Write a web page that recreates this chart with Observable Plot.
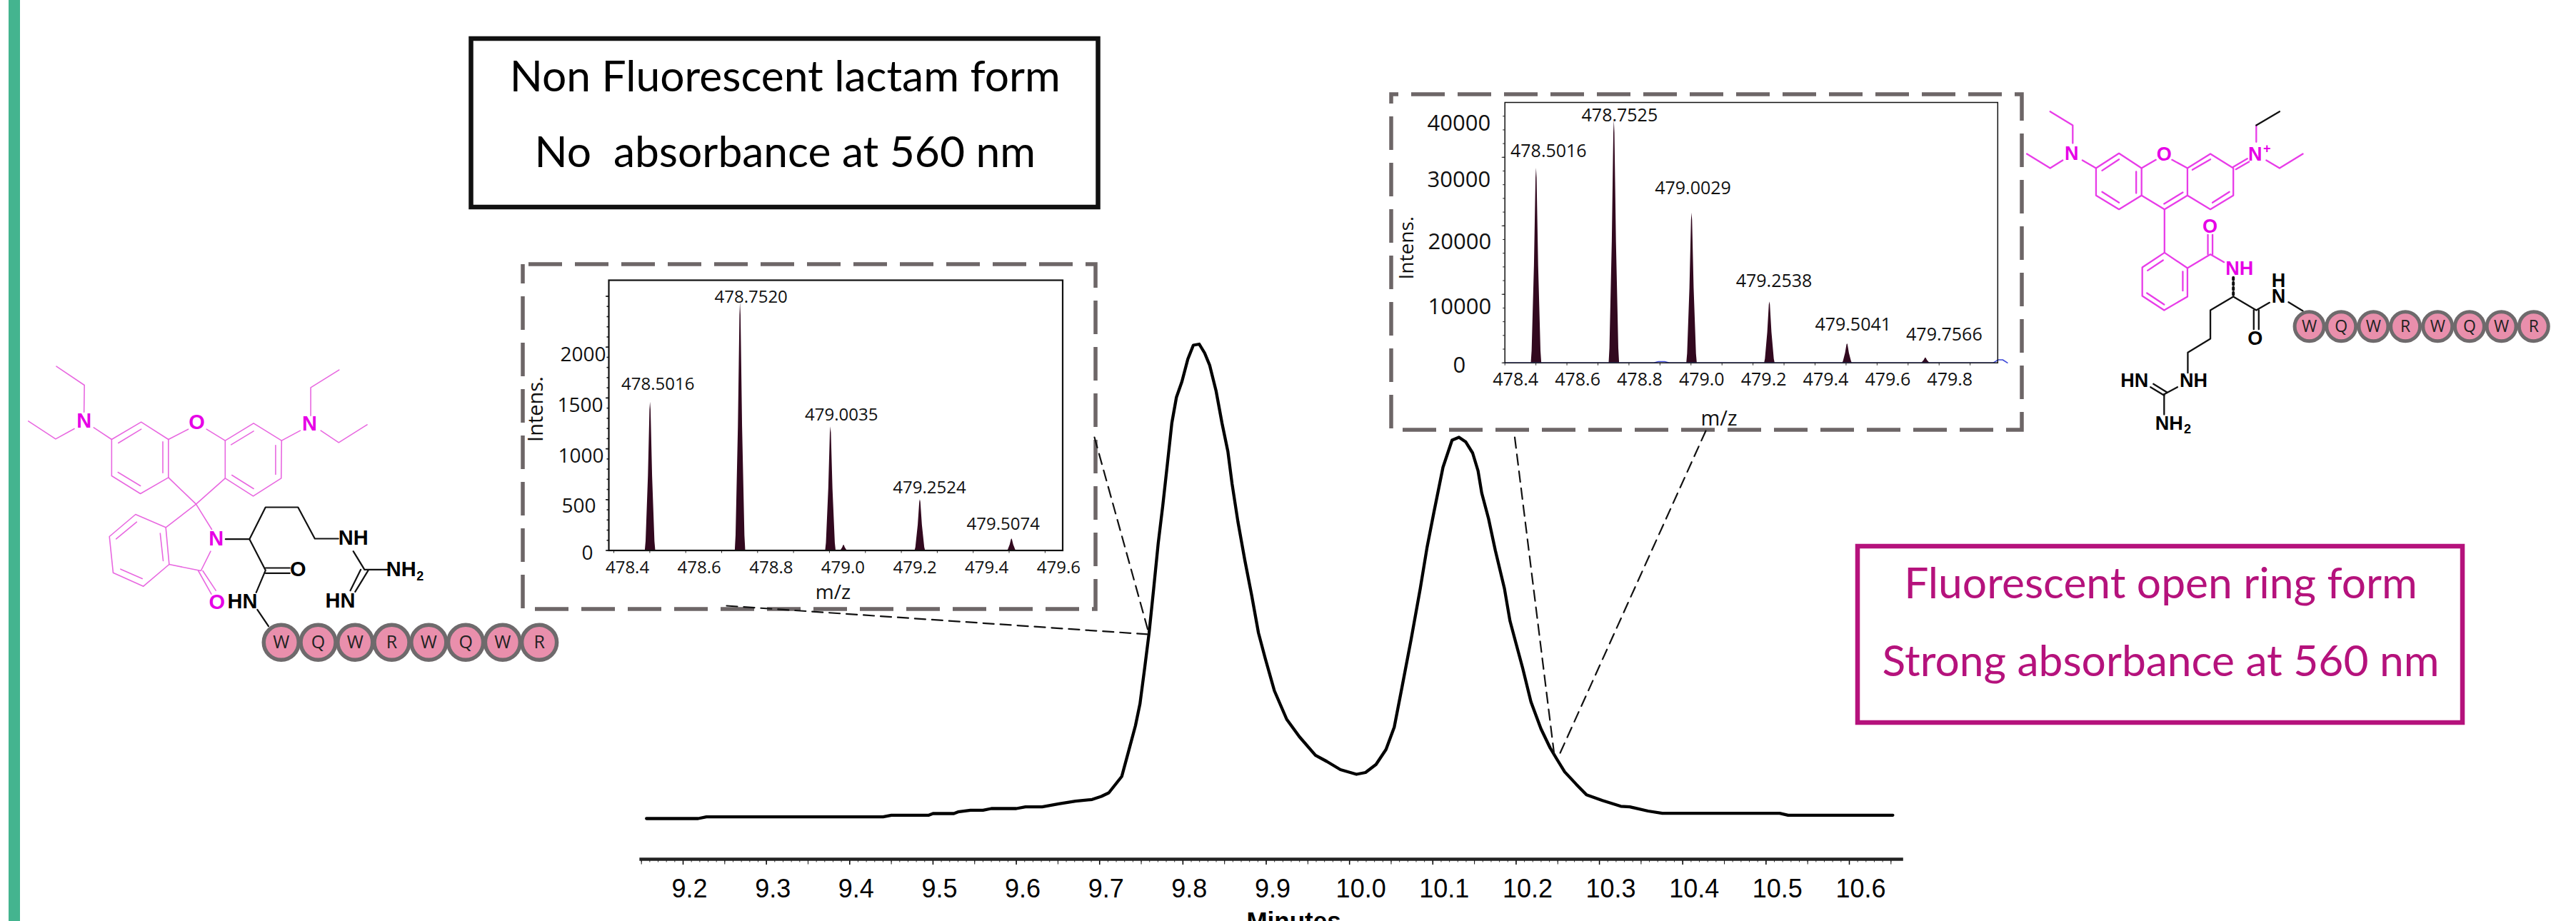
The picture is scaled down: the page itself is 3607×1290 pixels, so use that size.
<!DOCTYPE html>
<html><head><meta charset="utf-8">
<script src="https://cdn.jsdelivr.net/npm/d3@7"></script>
<script src="https://cdn.jsdelivr.net/npm/@observablehq/plot@0.6"></script>
<style>html,body{margin:0;padding:0;background:#fff;overflow:hidden}#stage{position:relative;width:3607px;height:1290px;overflow:hidden}#stage svg{position:absolute;left:0;top:0}</style>
</head><body><div id="stage"></div>
<script>
// ---- Chromatogram (minutes vs. absorbance, arbitrary units)
const minutes = [9.156,9.218,9.228,9.44,9.45,9.495,9.5,9.525,9.53,9.545,9.56,9.57,9.6,9.611,9.631,9.651,9.671,9.691,9.702,9.711,9.7266,9.7348,9.743,9.7485,9.754,9.7594,9.7649,9.7703,9.7758,9.7813,9.7867,9.7922,9.7988,9.8059,9.8125,9.8196,9.8261,9.8321,9.8398,9.8469,9.854,9.859,9.866,9.8743,9.8825,9.8907,9.8989,9.9098,9.9246,9.9399,9.9591,9.9727,9.9891,10.0083,10.0192,10.0318,10.0438,10.0537,10.063,10.0739,10.0849,10.0931,10.1013,10.1122,10.1231,10.1314,10.1396,10.1478,10.1543,10.1587,10.1669,10.175,10.186,10.1926,10.1997,10.2079,10.2178,10.2298,10.2408,10.249,10.2583,10.2725,10.2845,10.3037,10.3256,10.3365,10.3584,10.3755,10.5164,10.5265,10.6522];
const absorbance = [0,0,2.3,2.3,4.7,4.7,7,7,9.3,11.7,11.7,14,14,16.3,16.3,20.7,24.3,26.7,31,36,59,94.4,130,161,210,260,322,385,438,496,554,590,612,643.5,663,664.5,652,635,599,554,514,469,416,362,313,260,224,179,139,114.5,88.6,80,68.5,62,64.5,75.7,96.7,128,184,250.7,322,380,429,492,530,534,527.4,512,487,456,420,375.7,322,277,246,210.5,163.6,125.7,99,83,65.4,47.6,33.3,25.2,17.2,16.3,10.5,7.3,7.3,4.7,4.7];
const minuteTicks = [9.2,9.3,9.4,9.5,9.6,9.7,9.8,9.9,10.0,10.1,10.2,10.3,10.4,10.5,10.6];
const minuteMidTicks = [9.15,9.25,9.35,9.45,9.55,9.65,9.75,9.85,9.95,10.05,10.15,10.25,10.35,10.45,10.55,10.65];

// ---- Mass spectrum of the lactam form
const lactamMz = [478.5016,478.7520,479.0035,479.2524,479.5074,479.04];
const lactamIntensity = [1459,2438,1216,500,114,53];
const lactamHalfBase = [0.0145,0.0145,0.0145,0.0145,0.012,0.0095];
const lactamLabels = ["478.5016","478.7520","479.0035","479.2524","479.5074",""];
const lactamXTicks = [478.4,478.6,478.8,479.0,479.2,479.4,479.6];
const lactamYLabels = [2000,1500,1000,500,0];

// ---- Mass spectrum of the open ring form
const openMz = [478.5016,478.7525,479.0029,479.2538,479.5041,479.7566];
const openIntensity = [32590,40560,25100,10210,3190,840];
const openHalfBase = [0.0168,0.0168,0.0168,0.0168,0.0155,0.0135];
const openLabels = ["478.5016","478.7525","479.0029","479.2538","479.5041","479.7566"];
const openXTicks = [478.4,478.6,478.8,479.0,479.2,479.4,479.6,479.8];
const openYLabels = [40000,30000,20000,10000,0];
const openBaseMz = [478.4,478.88,478.895,478.915,478.93,479.975,479.99,480.005,480.02];
const openBaseInt = [0,0,200,200,0,0,500,500,0];

// ---- Peak outline (share of half base, share of height)
const profileWidth = [-1,-0.85,-0.4,-0.1,0,0.1,0.4,0.85,1];
const profileHeight = [0,0.06,0.5,0.95,1,0.95,0.5,0.06,0];

// ---- Peptide
const peptide = ["W","Q","W","R","W","Q","W","R"];

// ---- Lactam structure, in the drawing's own units
const lactamMagenta = [
 [[298,465],[377,392],[450,465],[450,625],[375,693],[298,618],[298,465]],
 [[316,480],[377,422]],[[435,475],[435,605]],[[315,603],[375,660]],
 [[602,470],[678,397],[753,470],[752,628],[677,703],[602,628],[602,470]],
 [[618,487],[678,430]],[[737,490],[737,612]],[[620,615],[678,672]],
 [[450,465],[503,422]],[[552,422],[602,470]],[[450,625],[524,737],[602,628]],
 [[298,465],[250,415]],[[224,350],[225,237],[150,158]],[[198,420],[148,463],[75,388]],
 [[753,470],[803,428]],[[831,365],[831,247],[907,173]],[[858,428],[906,478],[982,403]],
 [[443,835],[524,737],[566,843]],
 [[443,835],[362,780],[292,873],[302,1025],[383,1082],[452,990],[443,835]],
 [[365,812],[310,883]],[[428,860],[436,975]],[[322,1010],[380,1050]],
 [[452,990],[537,1017],[563,935]],[[530,1017],[565,1115]],[[542,1017],[577,1100]]
];
const lactamBlack = [
 [[603,884],[667,884],[710,750],[797,750],[842,882],[905,882]],
 [[667,884],[710,1015],[685,1108]],[[710,1005],[775,1005]],[[710,1027],[775,1027]],
 [[688,1180],[718,1250]],[[945,935],[975,1012],[1040,1012]],[[965,1012],[937,1100]],[[985,1015],[950,1105]]
];
const lactamAtoms = [
 ["N",224,388,"#e600e6"],["O",526,395,"#e600e6"],["N",828,400,"#e600e6"],["N",578,884,"#e600e6"],["O",580,1150,"#e600e6"],
 ["NH",945,880,"#000"],["O",797,1012,"#000"],["NH",1073,1012,"#000"],["HN",648,1148,"#000"],["HN",910,1145,"#000"]
];
const lactamSub = [["2",1124,1040,"#000"]];
const lactamBeadX = [752,851,950,1048,1147,1246,1345,1443];

// ---- Open ring structure, in the drawing's own units
const openMagenta = [
 [[228,345],[292,283],[355,345],[355,460],[292,518],[228,460],[228,345]],
 [[245,355],[292,308]],[[340,360],[340,450]],[[245,445],[292,490]],
 [[483,345],[547,285],[611,345],[611,460],[547,518],[483,460],[483,345]],
 [[497,352],[547,308]],[[553,490],[600,445]],
 [[355,460],[419,518],[483,460]],[[418,495],[470,447]],
 [[355,345],[395,310]],[[440,310],[483,345]],
 [[228,345],[190,312]],[[163,240],[163,165],[100,107]],[[135,312],[100,345],[35,285]],
 [[611,340],[650,305]],[[618,350],[655,318]],[[675,235],[675,165]],[[703,312],[740,345],[805,285]],
 [[419,518],[419,700]],
 [[419,700],[357,762],[357,882],[418,942],[483,885],[483,765],[419,700]],
 [[372,775],[415,732]],[[470,860],[470,780]],[[370,870],[418,918]],
 [[483,765],[547,707],[585,740]],[[540,707],[540,625]],[[553,707],[553,625]]
];
const openBlack = [
 [[675,165],[740,107]],
 [[611,885],[547,942],[547,1062],[484,1120],[484,1205]],[[611,885],[675,942],[712,910]],
 [[668,942],[668,1022]],[[682,942],[682,1022]],[[765,908],[805,945]],
 [[418,1295],[455,1265]],[[380,1265],[418,1300]],[[388,1252],[426,1287]],[[418,1295],[418,1380]]
];
const openDashed = [[[611,805],[611,880]]];
const openAtoms = [
 ["N",160,285,"#e600e6"],["O",418,288,"#e600e6"],["N",672,288,"#e600e6"],["O",546,590,"#e600e6"],["NH",628,768,"#e600e6"],
 ["H",737,820,"#000"],["N",737,885,"#000"],["O",672,1062,"#000"],["NH",500,1240,"#000"],["HN",335,1240,"#000"],["NH",432,1418,"#000"]
];
const openSub = [["+",705,262,"#e600e6"],["2",483,1442,"#000"]];
const openBeadX = [823,912,1002,1091,1181,1270,1359,1449];

const PAGE = {width:3607,height:1290};
const stage = document.getElementById("stage");
const add = o => stage.appendChild(Plot.plot({...PAGE,...o,style:{background:"transparent",fontFamily:"'Liberation Sans'",...(o.style||{})}}));
const rows = (a,b)=>a.map((d,i)=>({a:d,b:b[i]}));
const segs = list => list.flatMap((s,i)=>s.map(([x,y])=>({x,y,z:i})));

// ---- Chromatogram
const chrom = rows(minutes,absorbance);
add({
 marginLeft:0,marginRight:0,marginTop:0,marginBottom:87,
 x:{domain:[9.2,10.6],range:[956,2589],axis:null},
 y:{domain:[0,1146],range:[1146,0],axis:null},
 marks:[
  Plot.axisX(d3.range(915,1066).map(d=>d/100),{anchor:"bottom",tickSize:4.5,fill:"none",stroke:"#333",label:null}),
  Plot.axisX(minuteMidTicks,{anchor:"bottom",tickSize:7.5,fill:"none",stroke:"#111",label:null}),
  Plot.axisX(minuteTicks,{anchor:"bottom",tickSize:8,fill:"none",stroke:"#000",strokeWidth:1.5,label:null}),
  Plot.axisX(minuteTicks.filter(d=>d<10),{anchor:"bottom",tickSize:0,tickPadding:28,dx:9,fontSize:36,fill:"#000",tickFormat:d=>d.toFixed(1),label:null}),
  Plot.axisX(minuteTicks.filter(d=>d>=10),{anchor:"bottom",tickSize:0,tickPadding:28,dx:16,fontSize:36,fill:"#000",tickFormat:d=>d.toFixed(1),label:null}),
  Plot.ruleY([-57],{x1:9.148,x2:10.665,stroke:"#222",strokeWidth:4.7}),
  Plot.line(chrom,{x:"a",y:"b",stroke:"#000",strokeWidth:4.3,strokeLinejoin:"round"}),
  Plot.text(["Minutes"],{x:[9.933],y:[-144],text:d=>d,fontSize:35,fontWeight:"bold",fill:"#000"})
 ]
});

// ---- Spectrum helper
function spectrum(o){
 const area = o.mz.flatMap((m,i)=>profileWidth.map((w,j)=>({peak:i,mz:m+w*o.half[i],v:o.intensity[i]*profileHeight[j]})));
 const ft = {fontFamily:"'Open Sans'",fill:"#111"};
 add({
  marginLeft:o.left,marginRight:3607-o.right,marginTop:o.top,marginBottom:1290-o.bottom,
  x:{domain:o.xDomain,axis:null},y:{domain:o.yDomain,axis:null},
  marks:[
   Plot.axisX(o.xMinor,{anchor:"bottom",tickSize:o.xTick,fill:"none",stroke:"#222",label:null}),
   Plot.axisX(o.xTicks,{anchor:"bottom",tickSize:0,tickPadding:o.xPad,dx:o.xDx,fontSize:o.xFont,...ft,tickFormat:d=>d.toFixed(1),label:null}),
   Plot.axisY(o.yMinor,{anchor:"left",tickSize:2.5,fill:"none",stroke:"#222",strokeWidth:o.tickW,label:null}),
   Plot.axisY(o.yMajor,{anchor:"left",tickSize:4,fill:"none",stroke:"#222",strokeWidth:o.tickW,label:null}),
   ...o.yLabels.map((v,i)=>Plot.axisY([v],{anchor:"left",tickSize:0,tickPadding:o.yPad[i],dy:o.yDy[i],fontSize:o.yFont,...ft,tickFormat:d=>String(d),label:null})),
   Plot.areaY(area,{x:"mz",y1:0,y2:"v",z:"peak",fill:"#32091f"}),
   Plot.line(o.base,{x:"a",y:"b",stroke:"#3a46d8",strokeWidth:1.6}),
   Plot.frame({stroke:"#111",strokeWidth:o.frameW}),
   ...o.labels.map((t,i)=>t?Plot.text([t],{x:[o.mz[i]],y:[o.intensity[i]],text:d=>d,dx:o.labelDx[i],dy:o.labelDy[i],fontSize:o.labelFont,...ft}):null)
  ]
 });
}
spectrum({
 left:852,right:1487.5,top:392,bottom:770.5,
 xDomain:[478.386,479.649],yDomain:[0,2658],
 mz:lactamMz,intensity:lactamIntensity,half:lactamHalfBase,labels:lactamLabels,
 labelDx:[10.6,15,15,13,-12,0],labelDy:[-24.7,-8,-17,-16,-20,0],labelFont:24,
 xTicks:lactamXTicks,xMinor:d3.range(4784,4797).map(d=>d/10),xTick:4,xPad:15,xDx:19,xFont:24,
 yLabels:lactamYLabels,yMajor:[0,500,1000,1500,2000,2500],yMinor:d3.range(0,2600,100),
 yPad:[4,8,7,18,22],yDy:[11,11,10,9,4.5],yFont:28,tickW:1.6,frameW:2.2,
 base:[{a:478.386,b:0},{a:479.649,b:0}]
});
spectrum({
 left:2106.7,right:2796.8,top:143,bottom:507.7,
 xDomain:[478.4,479.989],yDomain:[0,43590],
 mz:openMz,intensity:openIntensity,half:openHalfBase,labels:openLabels,
 labelDx:[17,7.6,1.5,6,8,26],labelDy:[-23.3,-7.3,-33.7,-28.3,-27,-31.7],labelFont:25,
 xTicks:openXTicks,xMinor:d3.range(4784,4800).map(d=>d/10),xTick:4,xPad:14,xDx:15,xFont:25,
 yLabels:openYLabels,yMajor:[0,11470,22940,34410],yMinor:d3.range(0,19).map(d=>d*2294),
 yPad:[20,20,19,19,55],yDy:[0,-5,-2,6,4],yFont:31,tickW:1,frameW:1.5,
 base:rows(openBaseMz,openBaseInt)
});

// ---- Molecule helper
function molecule(o){
 const t = o.atoms, s=o.sub;
 add({
  marginLeft:o.x,marginRight:3607-o.x-o.w,marginTop:o.y,marginBottom:1290-o.y-o.h,
  x:{domain:[0,1568],axis:null},y:{domain:[0,o.yMax],range:[o.y,o.y+o.h],axis:null},
  marks:[
   Plot.line(segs(o.magenta),{x:"x",y:"y",z:"z",stroke:o.magentaInk,strokeWidth:o.mw,strokeLinejoin:"round"}),
   Plot.line(segs(o.black),{x:"x",y:"y",z:"z",stroke:"#111",strokeWidth:o.bw,strokeLinejoin:"round"}),
   o.dashed?Plot.line(segs(o.dashed),{x:"x",y:"y",z:"z",stroke:"#111",strokeWidth:4,strokeDasharray:"3,4"}):null,
   Plot.text(t,{x:d=>d[1],y:d=>d[2],text:d=>d[0],fill:d=>d[3],fontSize:o.atomFont,fontWeight:"bold"}),
   Plot.text(s,{x:d=>d[1],y:d=>d[2],text:d=>d[0],fill:d=>d[3],fontSize:o.subFont,fontWeight:"bold"}),
   Plot.dot(o.beadX,{x:d=>d,y:()=>o.beadY,r:o.beadR,fill:"#e98fac",stroke:"#6e6a6c",strokeWidth:o.beadW}),
   Plot.text(peptide,{x:(d,i)=>o.beadX[i],y:()=>o.beadY,text:d=>d,fontSize:o.beadFont,fill:"#222",fontFamily:"'Open Sans'"})
  ]
 });
}
molecule({x:0,y:460,w:820,h:500,yMax:1500,magenta:lactamMagenta,black:lactamBlack,atoms:lactamAtoms,sub:lactamSub,
 magentaInk:"#e868e0",mw:1.6,bw:2.2,atomFont:29,subFont:18,beadX:lactamBeadX,beadY:1318,beadR:24.5,beadW:5.5,beadFont:25});
molecule({x:2820,y:120,w:787,h:520,yMax:1560,magenta:openMagenta,black:openBlack,dashed:openDashed,atoms:openAtoms,sub:openSub,
 magentaInk:"#e83ce8",mw:2.3,bw:2.3,atomFont:27,subFont:18,beadX:openBeadX,beadY:1010,beadR:20.5,beadW:5,beadFont:23});

// ---- Annotation layer
const annotationBoxes = [
 {x1:12,x2:28,y1:0,y2:1290,fill:"#44b48f"}
];
const frames = [
 {x1:659.5,x2:1537.5,y1:54,y2:290,stroke:"#111"},
 {x1:2601,x2:3448,y1:765,y2:1012,stroke:"#b5127c"}
];
const dashedFrames = [
 {x1:732,x2:1534,y1:370,y2:853,off:57},
 {x1:1948,x2:2831,y1:132,y2:602,off:37}
];
const leaders = [
 [[1532,612],[1608,886]],[[1017,848],[1608,888]],[[2120.5,612],[2176,1058]],[[2388,603],[2181,1061]]
];
const boxText = [
 {t:"Non Fluorescent lactam form",x:1098.7,y:108,fill:"#000"},
 {t:"No  absorbance at 560 nm",x:1098.7,y:214,fill:"#000"},
 {t:"Fluorescent open ring form",x:3025,y:818,fill:"#b5127c"},
 {t:"Strong absorbance at 560 nm",x:3025,y:927,fill:"#b5127c"}
];
const insetText = [
 {t:"Intens.",x:750.5,y:572.6,r:-90,s:29},
 {t:"m/z",x:1166,y:830,r:0,s:28},
 {t:"Intens.",x:1970,y:346.7,r:-90,s:28},
 {t:"m/z",x:2406.5,y:586.7,r:0,s:29}
];
add({
 margin:0,
 x:{domain:[0,3607],range:[0,3607],axis:null},
 y:{domain:[0,1290],range:[0,1290],axis:null},
 marks:[
  Plot.rectY(annotationBoxes,{x1:"x1",x2:"x2",y1:"y1",y2:"y2",fill:"fill"}),
  Plot.rect(frames,{x1:"x1",x2:"x2",y1:"y1",y2:"y2",stroke:"stroke",strokeWidth:6.5,fill:"none"}),
  ...dashedFrames.map(f=>Plot.rect([f],{x1:"x1",x2:"x2",y1:"y1",y2:"y2",stroke:"#6d6667",strokeWidth:5.5,fill:"none",strokeDasharray:"47,18",strokeDashoffset:f.off})),
  Plot.line(segs(leaders),{x:"x",y:"y",z:"z",stroke:"#111",strokeWidth:2.2,strokeDasharray:"15,9"}),
  ...insetText.map(d=>Plot.text([d],{x:"x",y:"y",text:"t",rotate:d.r,fontSize:d.s,fill:"#111",fontFamily:"'Open Sans'"})),
  Plot.text(boxText,{x:"x",y:"y",text:"t",fill:"fill",fontSize:60.5,fontFamily:"Lato"})
 ]
});
</script></body></html>
